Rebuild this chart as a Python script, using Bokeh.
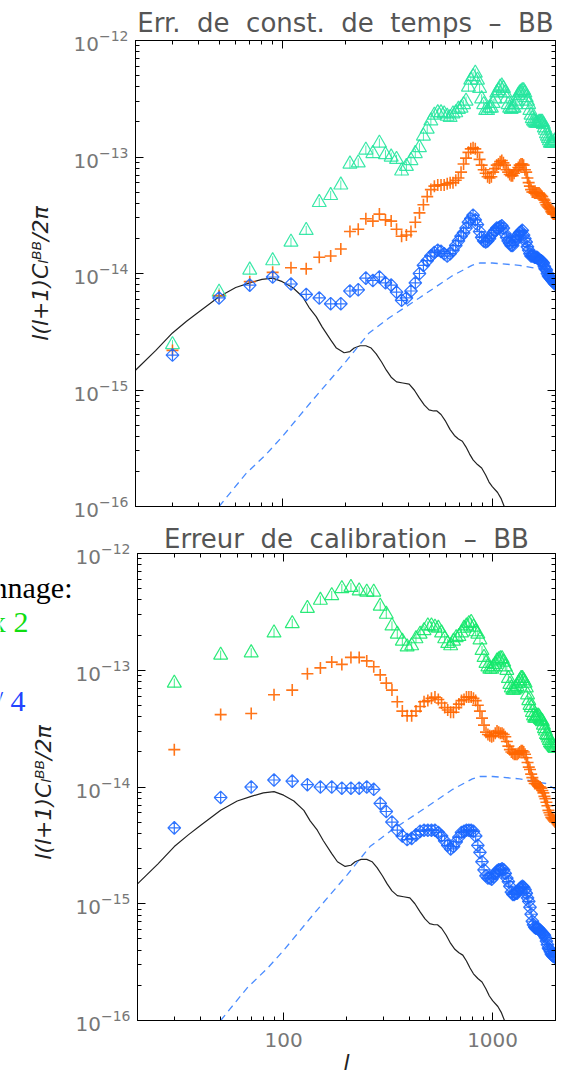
from math import pi

from bokeh.core.properties import value
from bokeh.embed import file_html
from bokeh.layouts import column, row
from bokeh.models import CustomJSTickFormatter, FixedTicker, LogAxis, Range1d
from bokeh.plotting import figure
from bokeh.resources import INLINE

# ---------------------------------------------------------------------------
# Data: binned multipoles and log10 of l(l+1)C_l^BB/2pi for each error term
# ---------------------------------------------------------------------------
ell = [30, 50, 70, 90, 110, 130, 150, 170, 190, 210,
       230, 250, 270, 290, 310, 330, 350, 370, 390, 410,
       430, 450, 470, 490, 510, 530, 550, 570, 590, 610,
       630, 650, 670, 690, 710, 730, 750, 770, 790, 810,
       830, 850, 870, 890, 910, 930, 950, 970, 990, 1010,
       1030, 1050, 1070, 1090, 1110, 1130, 1150, 1170, 1190, 1210,
       1230, 1250, 1270, 1290, 1310, 1330, 1350, 1370, 1390, 1410,
       1430, 1450, 1470, 1490, 1510, 1530, 1550, 1570, 1590, 1610,
       1630, 1650, 1670, 1690, 1710, 1730, 1750, 1770, 1790, 1810,
       1830, 1850, 1870, 1890, 1910, 1930, 1950, 1970, 1990]

# time-constant error
tc_green = [-14.61, -14.16, -13.97, -13.89, -13.73, -13.63, -13.39, -13.33, -13.24, -13.06,
            -13.05, -12.94, -12.97, -12.88, -12.98, -13.00, -13.02, -13.12, -13.08, -13.03,
            -12.97, -12.92, -12.82, -12.76, -12.69, -12.64, -12.62, -12.62, -12.63, -12.65,
            -12.66, -12.63, -12.62, -12.59, -12.58, -12.55, -12.52, -12.40, -12.34, -12.31,
            -12.28, -12.34, -12.41, -12.50, -12.55, -12.60, -12.60, -12.58, -12.58, -12.54,
            -12.50, -12.45, -12.43, -12.40, -12.39, -12.41, -12.45, -12.50, -12.55, -12.58,
            -12.59, -12.58, -12.58, -12.55, -12.52, -12.47, -12.45, -12.44, -12.43, -12.43,
            -12.45, -12.49, -12.52, -12.55, -12.60, -12.64, -12.67, -12.69, -12.70, -12.71,
            -12.71, -12.71, -12.70, -12.70, -12.70, -12.70, -12.72, -12.75, -12.77, -12.80,
            -12.82, -12.84, -12.86, -12.88, -12.88, -12.88, -12.88, -12.87, -12.86]

tc_orange = [-14.66, -14.19, -14.07, -13.99, -13.95, -13.96, -13.86, -13.85, -13.79, -13.64,
             -13.62, -13.53, -13.55, -13.49, -13.54, -13.55, -13.62, -13.68, -13.67, -13.64,
             -13.56, -13.48, -13.41, -13.34, -13.28, -13.25, -13.24, -13.24, -13.24, -13.23,
             -13.22, -13.22, -13.20, -13.18, -13.13, -13.06, -13.01, -12.96, -12.93, -12.92,
             -12.93, -12.96, -13.02, -13.07, -13.11, -13.14, -13.17, -13.18, -13.17, -13.13,
             -13.10, -13.07, -13.06, -13.04, -13.03, -13.05, -13.07, -13.11, -13.13, -13.15,
             -13.16, -13.16, -13.14, -13.12, -13.11, -13.09, -13.07, -13.06, -13.06, -13.07,
             -13.11, -13.13, -13.18, -13.22, -13.25, -13.28, -13.30, -13.30, -13.31, -13.31,
             -13.31, -13.31, -13.31, -13.32, -13.33, -13.34, -13.36, -13.37, -13.39, -13.41,
             -13.42, -13.43, -13.44, -13.45, -13.47, -13.48, -13.49, -13.49, -13.49]

tc_blue = [-14.70, -14.21, -14.10, -14.03, -14.09, -14.18, -14.21, -14.26, -14.26, -14.15,
           -14.14, -14.04, -14.06, -14.03, -14.08, -14.10, -14.16, -14.23, -14.21, -14.15,
           -14.08, -14.00, -13.93, -13.89, -13.85, -13.82, -13.80, -13.81, -13.83, -13.85,
           -13.83, -13.80, -13.76, -13.72, -13.68, -13.65, -13.61, -13.56, -13.53, -13.50,
           -13.54, -13.58, -13.64, -13.69, -13.72, -13.73, -13.72, -13.70, -13.67, -13.65,
           -13.63, -13.61, -13.61, -13.60, -13.59, -13.61, -13.66, -13.69, -13.72, -13.74,
           -13.76, -13.76, -13.73, -13.71, -13.68, -13.67, -13.65, -13.64, -13.63, -13.67,
           -13.70, -13.73, -13.77, -13.80, -13.83, -13.85, -13.85, -13.85, -13.86, -13.86,
           -13.86, -13.87, -13.88, -13.89, -13.89, -13.90, -13.91, -13.94, -13.96, -13.97,
           -14.00, -14.02, -14.03, -14.04, -14.05, -14.06, -14.07, -14.08, -14.09]

# calibration error
cal_green = [-13.11, -12.87, -12.85, -12.68, -12.60, -12.47, -12.40, -12.36, -12.30, -12.29,
             -12.32, -12.33, -12.33, -12.45, -12.52, -12.62, -12.69, -12.75, -12.80, -12.79,
             -12.73, -12.69, -12.66, -12.62, -12.62, -12.63, -12.64, -12.68, -12.73, -12.77,
             -12.79, -12.75, -12.72, -12.71, -12.68, -12.64, -12.62, -12.60, -12.59, -12.63,
             -12.67, -12.69, -12.74, -12.83, -12.89, -12.94, -12.97, -12.99, -12.99, -12.97,
             -12.95, -12.92, -12.91, -12.90, -12.90, -12.93, -12.97, -13.00, -13.07, -13.12,
             -13.15, -13.17, -13.17, -13.16, -13.14, -13.11, -13.09, -13.07, -13.07, -13.09,
             -13.11, -13.15, -13.21, -13.26, -13.30, -13.32, -13.36, -13.39, -13.41, -13.41,
             -13.40, -13.39, -13.40, -13.42, -13.43, -13.44, -13.47, -13.50, -13.52, -13.55,
             -13.56, -13.58, -13.60, -13.62, -13.63, -13.64, -13.65, -13.66, -13.67]

cal_orange = [-13.68, -13.38, -13.37, -13.21, -13.17, -13.03, -12.98, -12.93, -12.95, -12.89,
              -12.89, -12.92, -12.97, -13.04, -13.11, -13.17, -13.27, -13.35, -13.39, -13.39,
              -13.35, -13.31, -13.27, -13.26, -13.24, -13.23, -13.25, -13.28, -13.32, -13.34,
              -13.36, -13.36, -13.32, -13.29, -13.26, -13.25, -13.23, -13.23, -13.23, -13.24,
              -13.26, -13.30, -13.35, -13.41, -13.47, -13.53, -13.55, -13.56, -13.57, -13.56,
              -13.54, -13.52, -13.53, -13.54, -13.54, -13.55, -13.57, -13.61, -13.65, -13.68,
              -13.70, -13.71, -13.72, -13.72, -13.72, -13.71, -13.70, -13.69, -13.69, -13.70,
              -13.72, -13.75, -13.79, -13.83, -13.85, -13.89, -13.92, -13.95, -13.97, -13.97,
              -13.98, -13.99, -14.00, -14.00, -14.01, -14.03, -14.05, -14.08, -14.10, -14.13,
              -14.16, -14.20, -14.22, -14.24, -14.26, -14.27, -14.28, -14.29, -14.30]

cal_blue = [-14.35, -14.09, -14.00, -13.94, -13.95, -13.98, -14.00, -14.00, -14.01, -14.01,
            -14.01, -14.00, -14.02, -14.14, -14.21, -14.30, -14.37, -14.42, -14.45, -14.44,
            -14.41, -14.38, -14.37, -14.37, -14.37, -14.37, -14.39, -14.42, -14.46, -14.50,
            -14.53, -14.51, -14.47, -14.43, -14.39, -14.38, -14.37, -14.37, -14.37, -14.38,
            -14.42, -14.50, -14.56, -14.64, -14.71, -14.76, -14.78, -14.78, -14.79, -14.77,
            -14.74, -14.72, -14.71, -14.71, -14.70, -14.71, -14.74, -14.78, -14.81, -14.85,
            -14.90, -14.92, -14.92, -14.91, -14.91, -14.89, -14.87, -14.86, -14.85, -14.86,
            -14.88, -14.91, -14.95, -14.98, -15.03, -15.09, -15.15, -15.18, -15.20, -15.21,
            -15.21, -15.21, -15.22, -15.23, -15.24, -15.25, -15.26, -15.27, -15.29, -15.32,
            -15.35, -15.38, -15.39, -15.41, -15.43, -15.44, -15.45, -15.45, -15.46]

# primordial (tensor) BB spectrum
prim_ell = [20, 25, 30, 35, 40, 50, 60, 70, 80, 90,
            100, 112, 125, 134, 145, 155, 170, 181, 197, 210,
            220, 235, 250, 265, 280, 297, 313, 330, 350, 375,
            402, 425, 450, 475, 500, 525, 545, 570, 600, 630,
            660, 690, 720, 750, 780, 810, 850, 890, 930, 965,
            1000, 1060, 1100, 1140, 1200]
prim_bb = [-14.83, -14.66, -14.51, -14.41, -14.33, -14.20, -14.12, -14.08, -14.05, -14.04,
           -14.07, -14.12, -14.20, -14.29, -14.37, -14.46, -14.57, -14.64, -14.68, -14.67,
           -14.64, -14.62, -14.62, -14.64, -14.69, -14.76, -14.83, -14.89, -14.93, -14.94,
           -14.95, -15.00, -15.07, -15.13, -15.17, -15.18, -15.18, -15.21, -15.27, -15.34,
           -15.39, -15.42, -15.44, -15.49, -15.55, -15.60, -15.64, -15.67, -15.73, -15.79,
           -15.83, -15.88, -15.93, -16.00, -16.10]

# lensing BB spectrum
lens_ell = [50, 67, 84, 100, 139, 202, 259, 323, 449, 645, 800, 870, 1000, 1345, 1800, 2000]
lens_bb = [-16.00, -15.72, -15.55, -15.40, -15.09, -14.75, -14.51, -14.38, -14.21, -14.02,
           -13.93, -13.91, -13.91, -13.93, -13.97, -14.02]

# text of the sampling legend (left margin of the lower panel)
legend_texts = ["nnage:", "x 2", "/ 4"]
legend_colors = ["#000000", "#11dd11", "#2244ff"]

# ---------------------------------------------------------------------------
# Style
# ---------------------------------------------------------------------------
GREEN_TC = "#25e69e"
GREEN_CAL = "#14e86c"
ORANGE = "#ff6600"
BLUE = "#1a66ff"
DASH_BLUE = "#4a8cff"
TICK_GREY = "#777777"
TITLE_GREY = "#555555"
Y_LABEL = "l(l+1)C\u2097\u1d2e\u1d2e/2\u03c0"

X_LO, X_HI = 20, 2000
Y_LO, Y_HI = 1e-16, 1e-12
FRAME_LEFT = 135
MARGIN_W = 72

Y_MAJOR = [1e-16, 1e-15, 1e-14, 1e-13, 1e-12]
Y_MINOR = [k * m for m in [1e-16, 1e-15, 1e-14, 1e-13] for k in range(2, 10)]
X_MAJOR = [100, 1000]
X_MINOR = [20, 30, 40, 50, 60, 70, 80, 90, 200, 300, 400, 500, 600, 700, 800, 900, 2000]


def lin(values):
    return [10.0 ** v for v in values]


def style_axis(ax, major, minor, show_labels=False):
    ax.ticker = FixedTicker(ticks=major, minor_ticks=minor)
    ax.axis_line_color = "black"
    ax.axis_line_width = 1
    ax.major_tick_in = 8
    ax.major_tick_out = 0
    ax.minor_tick_in = 4
    ax.minor_tick_out = 0
    ax.major_tick_line_color = "black"
    ax.minor_tick_line_color = "black"
    if show_labels:
        ax.major_label_text_font = "DejaVu Sans"
        ax.major_label_text_font_size = "20px"
        ax.major_label_text_color = TICK_GREY
    else:
        # ticks only
        ax.major_label_text_font_size = "1px"
        ax.major_label_text_alpha = 0
        ax.major_label_standoff = 0


def make_panel(width, height, border_left, border_top, border_bottom,
               green, orange, blue, green_color, title, title_standoff,
               x_labels, y_axis_label):
    p = figure(width=width, height=height, x_axis_type="log", y_axis_type="log",
               x_range=Range1d(X_LO, X_HI), y_range=Range1d(Y_LO, Y_HI),
               output_backend="svg", toolbar_location=None,
               min_border_left=border_left, min_border_right=6,
               min_border_top=border_top, min_border_bottom=border_bottom)
    p.frame_align = False
    p.grid.visible = False
    p.outline_line_color = "black"
    p.background_fill_color = "white"
    p.border_fill_color = "white"

    # title
    p.title.text = title
    p.title.align = "center"
    p.title.text_font = "DejaVu Sans"
    p.title.text_font_size = "26px"
    p.title.text_font_style = "normal"
    p.title.text_color = TITLE_GREY
    p.title.standoff = title_standoff

    # left axis with decade labels
    style_axis(p.yaxis[0], Y_MAJOR, Y_MINOR, True)
    p.yaxis[0].major_label_standoff = 7
    if y_axis_label:
        p.yaxis[0].axis_label = Y_LABEL
        p.yaxis[0].axis_label_text_font = "DejaVu Sans"
        p.yaxis[0].axis_label_text_font_style = "italic"
        p.yaxis[0].axis_label_text_font_size = "22px"
        p.yaxis[0].axis_label_text_color = "#222222"
        p.yaxis[0].axis_label_standoff = 18

    # bottom axis
    if x_labels:
        style_axis(p.xaxis[0], X_MAJOR, X_MINOR, True)
        p.xaxis[0].formatter = CustomJSTickFormatter(code="return tick.toFixed(0)")
        p.xaxis[0].major_label_standoff = 12
        p.xaxis[0].axis_label = "l"
        p.xaxis[0].axis_label_text_font = "DejaVu Sans"
        p.xaxis[0].axis_label_text_font_style = "italic"
        p.xaxis[0].axis_label_text_font_size = "22px"
        p.xaxis[0].axis_label_text_color = "#222222"
        p.xaxis[0].axis_label_standoff = 0
    else:
        style_axis(p.xaxis[0], X_MAJOR, X_MINOR)

    # mirrored axes on top and right
    top_ax = LogAxis()
    style_axis(top_ax, X_MAJOR, X_MINOR)
    p.add_layout(top_ax, "above")
    right_ax = LogAxis()
    style_axis(right_ax, Y_MAJOR, Y_MINOR)
    p.add_layout(right_ax, "right")

    # theory curves
    p.line(prim_ell, lin(prim_bb), line_color="#222222", line_width=1.2)
    p.line(lens_ell, lin(lens_bb), line_color=DASH_BLUE, line_width=1.3, line_dash="7 5")

    # error spectra
    g = lin(green)
    o = lin(orange)
    b = lin(blue)
    p.scatter(ell, g, marker="triangle", size=14, fill_color=None,
              line_color=green_color, line_width=1.2, line_alpha=0.9)
    p.scatter(ell, g, marker="dash", angle=pi / 2, size=9,
              line_color=green_color, line_width=1, line_alpha=0.8)
    p.scatter(ell, o, marker="cross", size=12,
              line_color=ORANGE, line_width=1.6, line_alpha=0.9)
    p.scatter(ell, b, marker="square_x", angle=pi / 4, size=9, fill_color=None,
              line_color=BLUE, line_width=1.2, line_alpha=0.9)
    return p


TOP_H = 520
BOT_H = 1079 - TOP_H

top = make_panel(561, TOP_H, FRAME_LEFT, 40, 14, tc_green, tc_orange, tc_blue, GREEN_TC,
                 "Err.\u00a0 de\u00a0 const.\u00a0 de\u00a0 temps\u00a0 \u2013\u00a0 BB", 5,
                 False, True)

bottom = make_panel(561 - MARGIN_W, BOT_H, FRAME_LEFT - MARGIN_W, 33, 59,
                    cal_green, cal_orange, cal_blue, GREEN_CAL,
                    "Erreur\u00a0 de\u00a0 calibration\u00a0 \u2013\u00a0 BB", 0,
                    True, False)

# left margin of the lower panel: sampling legend and the y-axis title,
# laid out in pixel coordinates (y measured downward from the panel top)
margin = figure(width=MARGIN_W, height=BOT_H, x_range=Range1d(0, MARGIN_W),
                y_range=Range1d(BOT_H, 0), output_backend="svg", toolbar_location=None,
                title=None, min_border=0, x_axis_location=None, y_axis_location=None)
margin.frame_align = False
margin.min_border_left = 0
margin.min_border_right = 0
margin.min_border_top = 0
margin.min_border_bottom = 0
margin.grid.visible = False
margin.outline_line_color = None
margin.background_fill_color = "white"
margin.border_fill_color = "white"
margin.text(x=[72, 28, 25], y=[67, 101, 180], text=legend_texts,
            text_color=legend_colors, text_align="right", text_baseline="alphabetic",
            text_font=value("Liberation Serif"), text_font_size="30px")
margin.text(x=[43], y=[272], text=[Y_LABEL], angle=pi / 2,
            text_align="center", text_baseline="middle", text_color="#222222",
            text_font=value("DejaVu Sans"), text_font_style="italic",
            text_font_size="22px")

layout = column(top, row(margin, bottom, spacing=0), spacing=0)
open("out.html", "w").write(file_html(layout, INLINE))
